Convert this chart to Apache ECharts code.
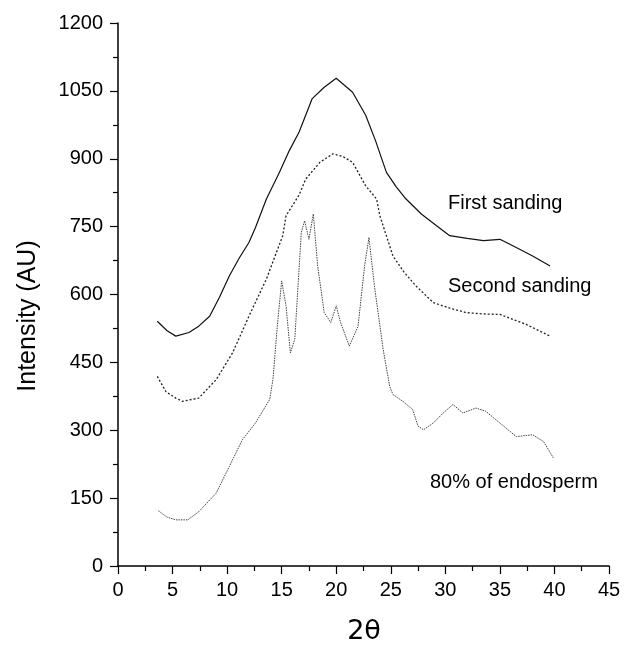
<!DOCTYPE html>
<html>
<head>
<meta charset="utf-8">
<script src="https://cdn.jsdelivr.net/npm/echarts@6/dist/echarts.min.js"></script>
<style>html,body{margin:0;padding:0;background:#fff;}#c{width:624px;height:647px;}</style>
</head>
<body>
<div id="c"></div>
<script>
// Data
var firstX = [3.6, 4.5, 5.3, 6.5, 7.4, 8.4, 9.3, 10.2, 11.1, 12.0, 12.6, 13.6, 14.8, 15.7, 16.6, 17.8, 18.9, 20.0, 21.5, 22.7, 23.6, 24.6, 25.5, 26.4, 27.8, 29.2, 30.4, 32.0, 33.5, 35.0, 36.5, 38.0, 39.6];
var firstY = [541, 520, 508, 516, 530, 552, 594, 641, 680, 715, 748, 811, 870, 918, 959, 1033, 1058, 1078, 1047, 996, 940, 870, 838, 811, 778, 752, 730, 724, 719, 722, 704, 685, 663];

var secondX = [3.6, 4.4, 5.3, 5.9, 7.4, 9.0, 10.5, 12.0, 13.6, 15.1, 15.4, 16.6, 17.2, 18.5, 19.7, 20.6, 21.5, 22.7, 23.7, 24.0, 25.2, 26.2, 27.3, 28.9, 30.4, 31.9, 33.5, 35.0, 37.4, 39.6];
var secondY = [419, 385, 371, 364, 371, 412, 471, 552, 634, 730, 774, 820, 855, 892, 911, 905, 892, 840, 811, 774, 685, 650, 619, 582, 570, 560, 557, 556, 534, 508];

var endoX = [3.7, 4.5, 5.3, 6.4, 7.4, 9.0, 10.2, 11.4, 12.6, 13.9, 14.2, 14.6, 15.0, 15.4, 15.8, 16.2, 16.8, 17.1, 17.5, 17.9, 18.3, 18.9, 19.5, 20.0, 20.4, 21.2, 22.0, 22.6, 23.0, 23.5, 24.3, 24.9, 25.2, 26.1, 27.0, 27.5, 28.0, 28.9, 29.8, 30.7, 31.6, 32.8, 33.7, 35.0, 36.5, 38.0, 39.0, 39.9];
var endoY = [122, 108, 102, 102, 120, 161, 220, 279, 316, 368, 412, 530, 630, 575, 471, 501, 737, 763, 722, 778, 663, 560, 538, 575, 538, 486, 530, 663, 726, 619, 479, 397, 379, 364, 346, 309, 301, 316, 338, 357, 338, 349, 342, 316, 286, 290, 275, 239];

var xTicks = [0, 5, 10, 15, 20, 25, 30, 35, 40, 45];
var yTicks = [0, 150, 300, 450, 600, 750, 900, 1050, 1200];
var seriesNames = ['First sanding', 'Second sanding', '80% of endosperm'];

function pairs(xs, ys) { return xs.map(function (x, i) { return [x, ys[i]]; }); }

var chart = echarts.init(document.getElementById('c'), null, { renderer: 'canvas' });
var font = 'Liberation Sans, Arial, Helvetica, sans-serif';
var axisCommon = {
  axisLine: { show: true, onZero: false, lineStyle: { color: '#000', width: 1.5 } },
  axisTick: { show: true, inside: false, length: 8, lineStyle: { color: '#000', width: 1.2 } },
  minorTick: { show: true, splitNumber: 2, length: 5, lineStyle: { color: '#000', width: 1.2 } },
  splitLine: { show: false },
  axisLabel: { color: '#000', fontSize: 20, fontFamily: font, formatter: function (v) { return String(v); } }
};
chart.setOption({
  animation: false,
  backgroundColor: '#fff',
  grid: { left: 118, right: 15, top: 23, bottom: 81, containLabel: false },
  xAxis: Object.assign({}, axisCommon, {
    type: 'value', min: xTicks[0], max: xTicks[xTicks.length - 1], interval: 5,
    axisLabel: Object.assign({}, axisCommon.axisLabel, { margin: 14 })
  }),
  yAxis: Object.assign({}, axisCommon, {
    type: 'value', min: yTicks[0], max: yTicks[yTicks.length - 1], interval: 150,
    axisLabel: Object.assign({}, axisCommon.axisLabel, { margin: 15 })
  }),
  series: [
    { name: seriesNames[0], type: 'line', data: pairs(firstX, firstY), showSymbol: false, lineStyle: { color: '#111', width: 1.2 } },
    { name: seriesNames[1], type: 'line', data: pairs(secondX, secondY), showSymbol: false, lineStyle: { color: '#222', width: 1.3, type: [2, 2] } },
    { name: seriesNames[2], type: 'line', data: pairs(endoX, endoY), showSymbol: false, lineStyle: { color: '#444', width: 1, type: [1.5, 1] } }
  ],
  graphic: [
    { type: 'text', left: 448, top: 193, style: { text: seriesNames[0], fontSize: 20, fontFamily: font, fill: '#000' } },
    { type: 'text', left: 448, top: 276, style: { text: seriesNames[1], fontSize: 20, fontFamily: font, fill: '#000' } },
    { type: 'text', left: 430, top: 472, style: { text: seriesNames[2], fontSize: 20, fontFamily: font, fill: '#000' } },
    { type: 'text', x: 364, y: 632, style: { text: '2θ', fontSize: 27, fontFamily: 'DejaVu Sans, sans-serif', fill: '#000', align: 'center', verticalAlign: 'middle' } },
    { type: 'text', x: 28, y: 316, rotation: Math.PI / 2, style: { text: 'Intensity (AU)', fontSize: 25, fontFamily: font, fill: '#000', align: 'center', verticalAlign: 'middle' } }
  ]
});
</script>
</body>
</html>
